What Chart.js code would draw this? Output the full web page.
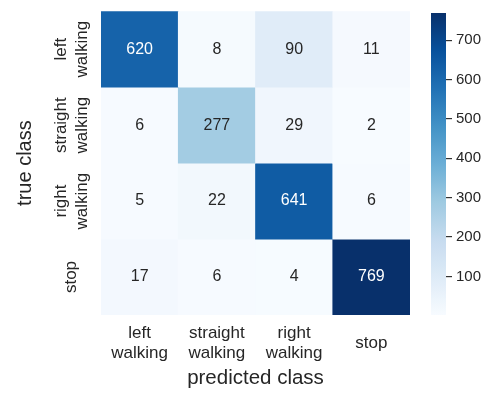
<!DOCTYPE html>
<html>
<head>
<meta charset="utf-8">
<script src="https://cdn.jsdelivr.net/npm/chart.js@4"></script>
<style>
  body { margin: 0; background: #fff; }
  #wrap { position: relative; width: 490px; height: 396px; }
  #cmChart { position: absolute; left: 0; top: 0; }
  #cbarChart { position: absolute; left: 420px; top: 0; }
</style>
</head>
<body>
<div id="wrap">
  <canvas id="cmChart" width="490" height="396"></canvas>
  <canvas id="cbarChart" width="70" height="396"></canvas>
</div>
<script>
var classNames = [["left", "walking"], ["straight", "walking"], ["right", "walking"], ["stop"]];

// confusion matrix, one row per true class
var rowLeft = [620, 8, 90, 11];
var rowStraight = [6, 277, 29, 2];
var rowRight = [5, 22, 641, 6];
var rowStop = [17, 6, 4, 769];
var matrix = [rowLeft, rowStraight, rowRight, rowStop];

var cbarTicks = [100, 200, 300, 400, 500, 600, 700];
var vmin = 2, vmax = 769;

// matplotlib "Blues"
var blues = ["#f7fbff", "#deebf7", "#c6dbef", "#9ecae1", "#6baed6", "#4292c6", "#2171b5", "#08519c", "#08306b"];

function hexRgb(h) {
  return [parseInt(h.substr(1, 2), 16), parseInt(h.substr(3, 2), 16), parseInt(h.substr(5, 2), 16)];
}

function bluesColor(v) {
  var t = (v - vmin) / (vmax - vmin);
  t = Math.max(0, Math.min(1, t));
  var pos = t * (blues.length - 1);
  var i = Math.min(Math.floor(pos), blues.length - 2);
  var f = pos - i;
  var a = hexRgb(blues[i]), b = hexRgb(blues[i + 1]);
  var c = a.map(function(x, k) { return Math.round(x + (b[k] - x) * f); });
  return "rgb(" + c.join(",") + ")";
}

var textColor = "#262626";
var fontFamily = "'Liberation Sans', Arial, sans-serif";

Chart.defaults.font.family = fontFamily;
Chart.defaults.color = textColor;

var datasets = [];
for (var r = 0; r < matrix.length; r++) {
  datasets.push({
    data: matrix[r].map(function() { return [r, r + 1]; }),
    values: matrix[r],
    backgroundColor: matrix[r].map(bluesColor),
    borderWidth: 0,
    borderSkipped: false,
    barPercentage: 1,
    categoryPercentage: 1,
    grouped: false
  });
}

// numbers written in the middle of each cell
var cellLabels = {
  id: "cellLabels",
  afterDatasetsDraw: function(chart) {
    var c = chart.ctx;
    c.save();
    c.font = "16px " + fontFamily;
    c.textAlign = "center";
    c.textBaseline = "middle";
    chart.data.datasets.forEach(function(ds, di) {
      var meta = chart.getDatasetMeta(di);
      meta.data.forEach(function(bar, j) {
        var v = ds.values[j];
        c.fillStyle = v > 400 ? "#ffffff" : textColor;
        c.fillText(String(v), bar.x, (bar.y + bar.base) / 2);
      });
    });
    c.restore();
  }
};

var ctx = document.getElementById("cmChart").getContext("2d");
var cmChart = new Chart(ctx, {
  type: "bar",
  data: {
    labels: classNames,
    datasets: datasets
  },
  options: {
    responsive: false,
    animation: false,
    layout: { padding: { left: 0, top: 5, right: 80, bottom: 0 } },
    plugins: { legend: { display: false }, tooltip: { enabled: false } },
    scales: {
      x: {
        grid: { display: false, drawTicks: false },
        border: { display: false },
        ticks: { font: { size: 17 }, padding: 18, crossAlign: "center", maxRotation: 0, autoSkip: false },
        title: { display: true, text: "predicted class", font: { size: 20.5 }, padding: { top: 0, bottom: 5 } },
        afterFit: function(scale) { scale.height = 81; }
      },
      y: {
        min: 0,
        max: 4,
        reverse: true,
        grid: { display: false, drawTicks: false },
        border: { display: false },
        afterBuildTicks: function(scale) {
          scale.ticks = [0.5, 1.5, 2.5, 3.5].map(function(v) { return { value: v }; });
        },
        ticks: {
          font: { size: 17 },
          padding: 1,
          minRotation: 90,
          maxRotation: 90,
          crossAlign: "center",
          callback: function(v) { return classNames[Math.floor(v)]; }
        },
        title: { display: true, text: "true class", font: { size: 20 }, padding: { top: 13, bottom: 0 } },
        afterFit: function(scale) { scale.width = 101; }
      }
    }
  },
  plugins: [cellLabels]
});

// colour bar
var btx = document.getElementById("cbarChart").getContext("2d");
var cbarChart = new Chart(btx, {
  type: "bar",
  data: {
    labels: [""],
    datasets: [{
      data: [[vmin, vmax]],
      borderWidth: 0,
      borderSkipped: false,
      barPercentage: 1,
      categoryPercentage: 1,
      backgroundColor: function(context) {
        var area = context.chart.chartArea;
        if (!area) return blues[4];
        var g = context.chart.ctx.createLinearGradient(0, area.bottom, 0, area.top);
        for (var i = 0; i <= 40; i++) {
          g.addColorStop(i / 40, bluesColor(vmin + (vmax - vmin) * i / 40));
        }
        return g;
      }
    }]
  },
  options: {
    responsive: false,
    animation: false,
    layout: { padding: { left: 11, top: 5, right: 0, bottom: 81 } },
    plugins: { legend: { display: false }, tooltip: { enabled: false } },
    scales: {
      x: { display: false },
      y: {
        position: "right",
        min: vmin,
        max: vmax,
        grid: { drawOnChartArea: false, drawTicks: true, tickLength: 6, color: "#333333", lineWidth: 1.2 },
        border: { display: false },
        afterBuildTicks: function(scale) {
          scale.ticks = cbarTicks.map(function(v) { return { value: v }; });
        },
        ticks: { font: { size: 15 }, padding: 4, color: textColor },
        afterFit: function(scale) { scale.width = 44; }
      }
    }
  }
});
</script>
</body>
</html>
